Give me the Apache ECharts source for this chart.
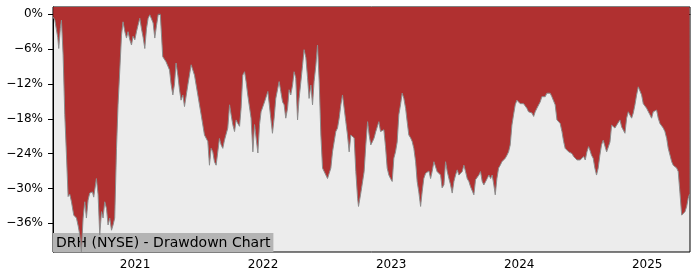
<!DOCTYPE html>
<html><head><meta charset="utf-8">
<script src="https://cdn.jsdelivr.net/npm/echarts@6/dist/echarts.min.js"></script>
<style>html,body{margin:0;padding:0;background:#fff}#c{width:700px;height:280px}</style>
</head><body><div id="c"></div>
<script>
// Time as fractional years
const years = [
2020.361,2020.373,2020.384,2020.396,2020.404,2020.416,2020.425,2020.438,2020.451,2020.464,
2020.477,2020.490,2020.503,2020.521,2020.542,2020.556,2020.568,2020.581,2020.594,2020.607,
2020.620,2020.633,2020.646,2020.667,2020.677,2020.698,2020.711,2020.724,2020.738,2020.750,
2020.763,2020.777,2020.789,2020.802,2020.816,2020.828,2020.841,2020.855,2020.867,2020.880,
2020.894,2020.906,2020.920,2020.933,2020.945,2020.959,2020.972,2020.984,2020.998,2021.011,
2021.023,2021.037,2021.050,2021.063,2021.076,2021.089,2021.102,2021.115,2021.128,2021.141,
2021.154,2021.167,2021.181,2021.197,2021.216,2021.230,2021.242,2021.255,2021.269,2021.281,
2021.295,2021.308,2021.320,2021.334,2021.347,2021.359,2021.373,2021.386,2021.412,2021.438,
2021.451,2021.464,2021.490,2021.516,2021.542,2021.568,2021.581,2021.594,2021.607,2021.620,
2021.633,2021.646,2021.659,2021.672,2021.685,2021.698,2021.711,2021.724,2021.738,2021.750,
2021.763,2021.777,2021.789,2021.802,2021.816,2021.828,2021.841,2021.855,2021.867,2021.880,
2021.906,2021.920,2021.933,2021.945,2021.959,2021.972,2021.984,2022.011,2022.037,2022.045,
2022.060,2022.073,2022.086,2022.099,2022.113,2022.125,2022.138,2022.152,2022.164,2022.177,
2022.191,2022.203,2022.216,2022.230,2022.242,2022.255,2022.269,2022.281,2022.295,2022.308,
2022.320,2022.334,2022.347,2022.359,2022.373,2022.386,2022.398,2022.412,2022.425,2022.438,
2022.451,2022.464,2022.477,2022.490,2022.503,2022.516,2022.529,2022.542,2022.555,2022.568,
2022.581,2022.594,2022.607,2022.620,2022.633,2022.646,2022.659,2022.672,2022.685,2022.698,
2022.711,2022.724,2022.738,2022.745,2022.763,2022.777,2022.789,2022.802,2022.816,2022.828,
2022.841,2022.855,2022.867,2022.880,2022.891,2022.904,2022.917,2022.930,2022.943,2022.956,
2022.969,2022.982,2022.995,2023.008,2023.021,2023.034,2023.047,2023.060,2023.073,2023.086,
2023.099,2023.113,2023.125,2023.138,2023.152,2023.164,2023.177,2023.191,2023.203,2023.216,
2023.230,2023.242,2023.255,2023.269,2023.281,2023.295,2023.308,2023.320,2023.334,2023.347,
2023.359,2023.373,2023.386,2023.398,2023.412,2023.425,2023.438,2023.451,2023.464,2023.477,
2023.490,2023.503,2023.516,2023.529,2023.542,2023.555,2023.568,2023.581,2023.594,2023.607,
2023.620,2023.633,2023.646,2023.659,2023.672,2023.685,2023.698,2023.711,2023.724,2023.738,
2023.750,2023.763,2023.777,2023.789,2023.802,2023.813,2023.826,2023.839,2023.852,2023.865,
2023.878,2023.891,2023.904,2023.917,2023.930,2023.943,2023.956,2023.969,2023.982,2023.995,
2024.008,2024.021,2024.034,2024.047,2024.060,2024.073,2024.086,2024.099,2024.113,2024.125,
2024.138,2024.152,2024.164,2024.177,2024.191,2024.203,2024.216,2024.230,2024.242,2024.255,
2024.269,2024.281,2024.295,2024.308,2024.320,2024.334,2024.347,2024.359,2024.373,2024.386,
2024.398,2024.412,2024.425,2024.438,2024.451,2024.464,2024.477,2024.490,2024.503,2024.516,
2024.529,2024.542,2024.552,2024.565,2024.578,2024.591,2024.604,2024.617,2024.630,2024.643,
2024.656,2024.670,2024.683,2024.696,2024.709,2024.722,2024.734,2024.748,2024.761,2024.773,
2024.787,2024.800,2024.813,2024.826,2024.839,2024.852,2024.865,2024.878,2024.891,2024.904,
2024.917,2024.930,2024.943,2024.956,2024.969,2024.982,2024.995,2025.008,2025.021,2025.034,
2025.047,2025.060,2025.073,2025.086,2025.099,2025.113,2025.125,2025.138,2025.152,2025.164,
2025.177,2025.191,2025.203,2025.216,2025.230,2025.242,2025.255,2025.269,2025.281,2025.295,
2025.308,2025.320,2025.330
];
// Drawdown in percent
const drawdown = [
-0.5,-1.0,-1.2,-4.0,-5.9,-2.5,-1.0,-7.0,-17.3,-24.2,
-31.4,-31.0,-32.3,-34.6,-35.1,-36.5,-38.0,-40.9,-35.1,-32.3,
-35.1,-32.0,-30.8,-30.6,-31.5,-28.3,-31.0,-38.0,-34.0,-35.1,
-32.3,-33.5,-36.3,-35.1,-37.2,-36.3,-35.1,-23.1,-15.6,-9.9,
-3.6,-1.3,-3.0,-4.1,-3.0,-4.4,-5.3,-3.8,-4.4,-3.0,
-1.9,-0.7,-2.5,-4.0,-5.9,-2.5,-0.7,-0.1,0,-1.5,
-4.1,-2.0,0,0,-7.3,-7.5,-8.2,-8.5,-9.6,-12.0,
-13.9,-12.0,-8.4,-10.5,-13.0,-14.8,-13.9,-15.9,-12.2,-8.7,
-8.9,-10.5,-13.9,-17.3,-20.8,-21.9,-26.0,-23.1,-23.7,-25.4,
-26.0,-23.7,-21.4,-22.5,-23.1,-21.7,-21.7,-19.6,-15.6,-17.3,
-19.0,-20.2,-18.2,-18.8,-19.3,-16.2,-10.5,-9.9,-11.6,-13.9,
-17.9,-23.7,-19.0,-19.3,-23.9,-19.0,-16.8,-15.1,-13.3,-13.3,
-17.9,-20.5,-17.9,-14.5,-14.8,-11.6,-13.3,-15.1,-15.6,-17.9,
-16.2,-13.0,-13.9,-12.2,-9.9,-11.0,-18.2,-14.5,-11.6,-8.8,
-6.1,-7.5,-10.9,-14.5,-12.2,-15.6,-11.6,-8.8,-5.3,-11.6,
-20.8,-26.5,-27.1,-27.4,-28.3,-27.4,-26.5,-23.7,-23.4,-20.2,
-19.6,-17.9,-15.6,-13.9,-16.2,-18.5,-20.8,-23.7,-20.8,-20.8,
-21.3,-27.1,-31.7,-33.1,-30.8,-30.6,-27.1,-22.5,-18.5,-20.8,
-22.5,-21.9,-21.3,-20.2,-20.5,-18.5,-20.2,-20.5,-19.9,-22.8,
-26.5,-27.7,-28.3,-28.8,-24.8,-23.7,-22.0,-17.3,-15.6,-13.6,
-14.5,-16.2,-18.5,-20.8,-21.3,-21.9,-23.1,-25.4,-28.8,-30.6,
-33.1,-30.6,-28.3,-27.4,-27.1,-27.0,-28.3,-27.1,-25.4,-25.4,
-27.1,-27.4,-27.7,-29.9,-29.4,-25.4,-27.1,-28.3,-29.4,-30.8,
-28.8,-27.7,-26.8,-27.7,-27.4,-27.1,-26.0,-27.1,-28.3,-28.8,
-29.7,-30.0,-31.1,-28.5,-28.8,-27.7,-27.1,-28.8,-29.4,-28.8,
-28.3,-27.7,-28.3,-27.7,-29.4,-31.1,-28.3,-26.5,-26.0,-25.4,
-25.1,-24.8,-24.3,-23.7,-22.5,-19.1,-17.3,-15.6,-14.8,-15.1,
-15.4,-15.6,-15.4,-15.1,-16.2,-16.8,-16.8,-17.0,-17.6,-16.8,
-16.2,-15.6,-15.1,-14.2,-13.9,-14.2,-13.6,-13.9,-13.6,-14.2,
-14.5,-15.6,-18.2,-17.9,-18.8,-20.2,-21.9,-23.1,-23.4,-23.7,
-23.7,-24.0,-24.5,-24.8,-25.1,-24.8,-25.1,-24.8,-24.5,-25.1,
-23.7,-22.8,-23.4,-24.3,-24.8,-26.5,-27.7,-26.5,-24.3,-22.5,
-21.7,-21.4,-23.7,-24.0,-22.0,-19.1,-19.1,-19.6,-19.1,-19.4,
-18.2,-19.4,-19.6,-20.5,-17.9,-16.8,-16.5,-17.9,-17.0,-15.6,
-13.9,-12.5,-12.2,-13.9,-15.4,-15.6,-16.2,-16.5,-17.3,-17.9,
-16.8,-16.5,-16.5,-17.9,-18.8,-19.1,-19.6,-20.2,-21.4,-23.1,
-23.1,-25.4,-26.0,-26.0,-26.5,-27.1,-30.6,-34.6,-34.3,-34.0,
-33.1,-31.7,-31.0
];
const xTicks = [2021, 2022, 2023, 2024, 2025];
const yTicks = [0, -6, -12, -18, -24, -30, -36];
const titleText = 'DRH (NYSE) - Drawdown Chart';

const chart = echarts.init(document.getElementById('c'), null, {renderer: 'canvas'});
const font = 'DejaVu Sans';
chart.setOption({
  animation: false,
  title: {
    text: titleText, left: 53, top: 233, z: 1,
    padding: [2, 3, 1, 3],
    backgroundColor: '#b4b4b4',
    textStyle: {fontFamily: font, fontSize: 14, fontWeight: 'normal', color: '#000', lineHeight: 16}
  },
  grid: {left: 53, right: 10, top: 7, bottom: 28, show: true,
    backgroundColor: '#ececec', borderColor: '#000', borderWidth: 1, z: 0},
  xAxis: {
    type: 'value', min: 2020.359, max: 2025.334,
    axisLine: {show: true, lineStyle: {color: '#000'}},
    axisTick: {show: true, length: 5, customValues: xTicks, lineStyle: {color: '#000'}},
    axisLabel: {customValues: xTicks, margin: 7, color: '#000', fontFamily: font, fontSize: 12,
      formatter: v => String(Math.round(v))},
    splitLine: {show: false}
  },
  yAxis: {
    type: 'value', min: -40.95, max: 1.25,
    axisLine: {show: true, lineStyle: {color: '#000'}},
    axisTick: {show: true, length: 5, customValues: yTicks, lineStyle: {color: '#000'}},
    axisLabel: {customValues: yTicks, margin: 10, color: '#000', fontFamily: font, fontSize: 12,
      formatter: v => (v < 0 ? '\u2212' : '') + Math.abs(Math.round(v)) + '%'},
    splitLine: {show: false}
  },
  series: [{
    type: 'line', z: 2,
    data: years.map((t, i) => [t, drawdown[i]]),
    showSymbol: false,
    lineStyle: {color: '#8c8c8c', width: 1},
    areaStyle: {color: '#b03030', opacity: 1, origin: 'end'}
  }]
});
</script></body></html>
